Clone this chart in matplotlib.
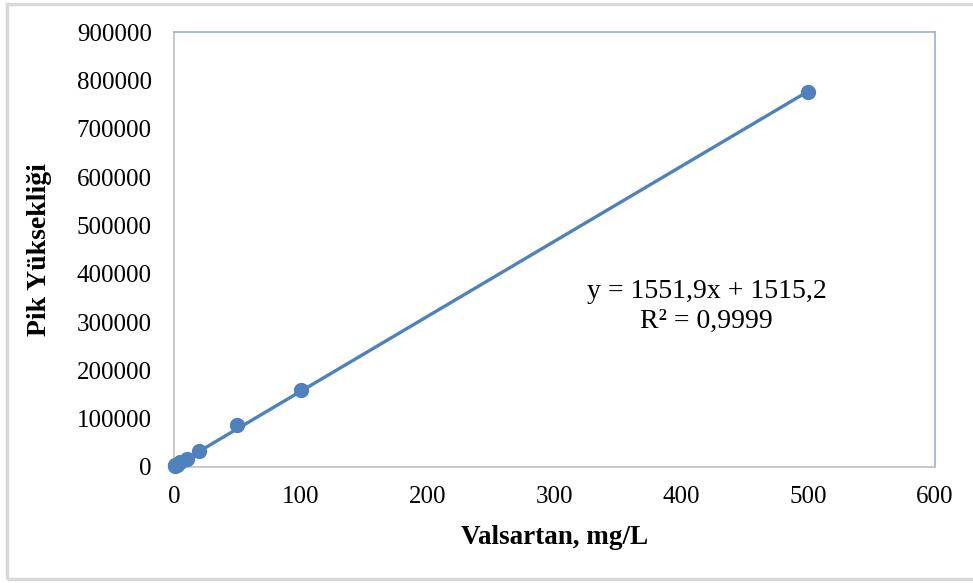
import numpy as np
import matplotlib.pyplot as plt
from matplotlib.patches import Rectangle

plt.rcParams['font.family'] = ['Liberation Serif', 'DejaVu Serif']

# kalibrasyon verileri
conc = [0.5, 1, 2, 5, 10, 20, 50, 100, 500]
peak = [2300, 3100, 4600, 9300, 16500, 33000, 87000, 159000, 776000]
slope, intercept = 1551.9, 1515.2
r2 = "0,9999"

x_ticks = [0, 100, 200, 300, 400, 500, 600]
y_ticks = [0, 100000, 200000, 300000, 400000, 500000, 600000, 700000, 800000, 900000]

blue = '#4F81BD'

fig = plt.figure(figsize=(9.73, 5.83), dpi=100)
ax = fig.add_axes([0.1788, 0.199, 0.7822, 0.746])

# dış çerçeve
fig.patches.append(Rectangle((0.0072, 0.0069), 1.1, 0.986, transform=fig.transFigure,
                             fill=False, edgecolor='#D9D9D9', linewidth=2.5, zorder=0))

xs = np.array([min(conc), max(conc)])
ax.plot(xs, slope * xs + intercept, color=blue, linewidth=2.4, zorder=2, clip_on=False)
ax.plot(conc, peak, 'o', color=blue, markersize=10, zorder=3, clip_on=False)

ax.set_xlim(0, 600)
ax.set_ylim(0, 900000)
ax.set_xticks(x_ticks)
ax.set_yticks(y_ticks)
ax.set_xticklabels([str(v) for v in x_ticks])
ax.set_yticklabels([str(v) for v in y_ticks])
ax.tick_params(length=0, labelsize=18)
ax.tick_params(axis='y', pad=16)
ax.tick_params(axis='x', pad=14)

for s in ['top', 'right']:
    ax.spines[s].set_color('#95B3D7')
for s in ['left', 'bottom']:
    ax.spines[s].set_color('#BFBFBF')
for s in ax.spines.values():
    s.set_linewidth(1.2)

ax.set_xlabel('Valsartan, mg/L', fontsize=19.5, fontweight='bold', labelpad=12)
ax.set_ylabel('Pik Yüksekliği', fontsize=20, fontweight='bold', labelpad=18)

ax.text(0.70, 0.37, f"y = {str(slope).replace('.', ',')}x + {str(intercept).replace('.', ',')}\nR² = {r2}",
        transform=ax.transAxes, ha='center', va='center', fontsize=20, linespacing=1.25)

fig.savefig('out.png', dpi=100)
